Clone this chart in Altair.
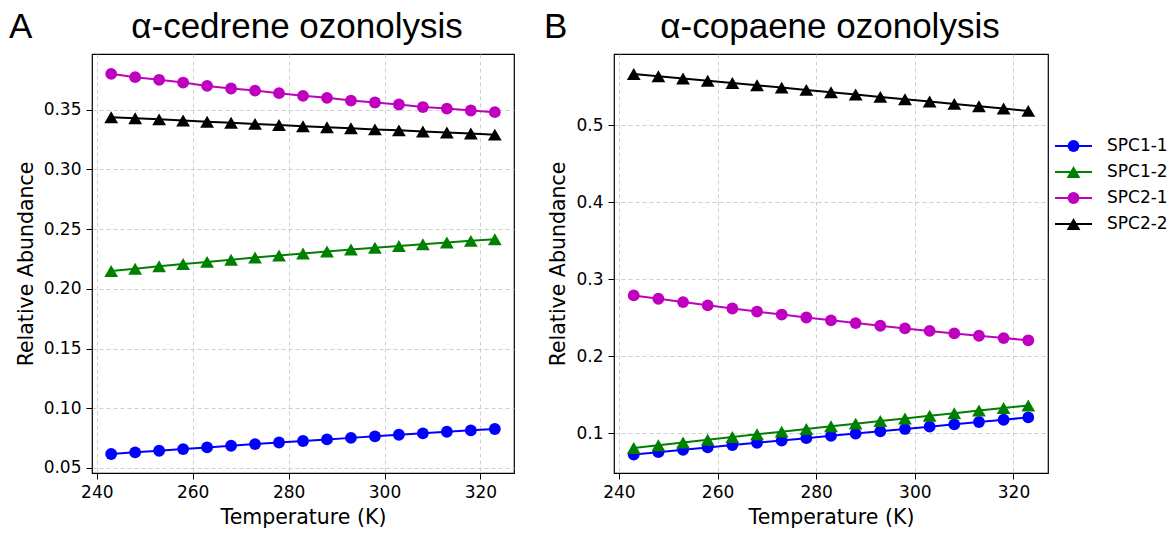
import altair as alt
import pandas as pd

temps = [243, 248, 253, 258, 263, 268, 273, 278, 283, 288, 293, 298, 303, 308, 313, 318, 323]
series_names = ["SPC1-1", "SPC1-2", "SPC2-1", "SPC2-2"]
colors = ["#0000ff", "#008000", "#bf00bf", "#000000"]
shapes = ["circle", "triangle-up", "circle", "triangle-up"]
marker_sizes = [140, 190, 140, 190]

# Panel A: alpha-cedrene ozonolysis
a_spc1_1 = [0.0617, 0.0631, 0.0644, 0.0658, 0.0672, 0.0686, 0.0700, 0.0713, 0.0726, 0.0739, 0.0752, 0.0765, 0.0778, 0.0790, 0.0803, 0.0815, 0.0826]
a_spc1_2 = [0.2148, 0.2168, 0.2188, 0.2207, 0.2225, 0.2243, 0.2261, 0.2278, 0.2295, 0.2312, 0.2328, 0.2343, 0.2358, 0.2373, 0.2387, 0.2401, 0.2414]
a_spc2_1 = [0.3799, 0.3771, 0.3749, 0.3726, 0.3698, 0.3676, 0.3659, 0.3637, 0.3615, 0.3598, 0.3575, 0.3559, 0.3542, 0.3521, 0.3508, 0.3492, 0.3478]
a_spc2_2 = [0.3436, 0.3427, 0.3418, 0.3408, 0.3398, 0.3389, 0.3380, 0.3370, 0.3361, 0.3352, 0.3343, 0.3334, 0.3326, 0.3317, 0.3308, 0.3300, 0.3290]

# Panel B: alpha-copaene ozonolysis
b_spc1_1 = [0.0720, 0.0751, 0.0782, 0.0813, 0.0843, 0.0873, 0.0903, 0.0933, 0.0963, 0.0993, 0.1023, 0.1053, 0.1083, 0.1113, 0.1143, 0.1173, 0.1203]
b_spc1_2 = [0.0805, 0.0841, 0.0877, 0.0913, 0.0948, 0.0983, 0.1018, 0.1053, 0.1088, 0.1122, 0.1156, 0.1190, 0.1224, 0.1258, 0.1292, 0.1325, 0.1358]
b_spc2_1 = [0.2790, 0.2746, 0.2703, 0.2661, 0.2620, 0.2580, 0.2541, 0.2503, 0.2466, 0.2430, 0.2395, 0.2361, 0.2328, 0.2296, 0.2265, 0.2235, 0.2206]
b_spc2_2 = [0.5670, 0.5641, 0.5612, 0.5583, 0.5553, 0.5523, 0.5493, 0.5463, 0.5432, 0.5402, 0.5372, 0.5342, 0.5312, 0.5281, 0.5251, 0.5221, 0.5190]

x_ticks = [240, 260, 280, 300, 320]
a_y_ticks = [0.05, 0.10, 0.15, 0.20, 0.25, 0.30, 0.35]
b_y_ticks = [0.1, 0.2, 0.3, 0.4, 0.5]

FONT_AX = "DejaVu Sans"
FONT_TITLE = "Liberation Sans"


def series_df(values, name):
    return pd.DataFrame({"T": temps, "v": values, "series": name})


def panel(series_values, ydomain, yticks, yfmt, width, title, title_x, letter, letter_x):
    x = alt.X("T:Q", scale=alt.Scale(domain=[239, 327], nice=False, zero=False),
              axis=alt.Axis(values=x_ticks, format="d", title="Temperature (K)"))
    y = alt.Y("v:Q", scale=alt.Scale(domain=ydomain, nice=False, zero=False),
              axis=alt.Axis(values=yticks, format=yfmt, title="Relative Abundance"))
    layers = []
    for name, vals, col, shp, sz in zip(series_names, series_values, colors, shapes, marker_sizes):
        d = series_df(vals, name)
        layers.append(alt.Chart(d).mark_line(color=col, strokeWidth=2).encode(x=x, y=y))
        layers.append(alt.Chart(d).mark_point(color=col, shape=shp, filled=True, opacity=1, size=sz).encode(x=x, y=y))
    t = alt.Chart(pd.DataFrame({"t": [title]})).mark_text(
        font=FONT_TITLE, fontSize=35, align="center", baseline="alphabetic", color="black"
    ).encode(text="t:N", x=alt.value(title_x), y=alt.value(-16))
    l = alt.Chart(pd.DataFrame({"t": [letter]})).mark_text(
        font=FONT_TITLE, fontSize=35, align="left", baseline="alphabetic", color="black"
    ).encode(text="t:N", x=alt.value(letter_x), y=alt.value(-16))
    layers += [t, l]
    return alt.layer(*layers).properties(width=width, height=419)


panel_a = panel([a_spc1_1, a_spc1_2, a_spc2_1, a_spc2_2], [0.0458, 0.3965], a_y_ticks, ".2f",
                422, "α-cedrene ozonolysis", 205, "A", -83)
panel_b = panel([b_spc1_1, b_spc1_2, b_spc2_1, b_spc2_2], [0.048, 0.593], b_y_ticks, ".1f",
                434, "α-copaene ozonolysis", 216, "B", -70)

# legend built from the series names
leg_df = pd.DataFrame({"series": series_names, "sz": marker_sizes})
color_scale = alt.Scale(domain=series_names, range=colors)
shape_scale = alt.Scale(domain=series_names, range=shapes)
ly = alt.Y("series:N", scale=alt.Scale(type="point", domain=series_names, range=[92, 170], padding=0), axis=None)
leg_rule = alt.Chart(leg_df).mark_rule(strokeWidth=2).encode(
    x=alt.value(441), x2=alt.value(478), y=ly,
    color=alt.Color("series:N", scale=color_scale, legend=None))
leg_pt = alt.Chart(leg_df).mark_point(filled=True, opacity=1).encode(
    x=alt.value(459.5), y=ly,
    color=alt.Color("series:N", scale=color_scale, legend=None),
    shape=alt.Shape("series:N", scale=shape_scale, legend=None),
    size=alt.Size("sz:Q", scale=None, legend=None))
leg_txt = alt.Chart(leg_df).mark_text(align="left", baseline="middle", font=FONT_AX, fontSize=17, color="black").encode(
    x=alt.value(493), y=ly, text="series:N")
legend = alt.layer(leg_rule, leg_pt, leg_txt)

panel_b_full = alt.layer(panel_b, legend).resolve_scale(y="independent")

chart = alt.hconcat(panel_a, panel_b_full, spacing=100, bounds="flush").properties(
    padding={"left": 8, "top": 9, "right": 0, "bottom": 0},
    background="white"
).configure_view(
    stroke="black", strokeWidth=1.2
).configure_axis(
    labelFont=FONT_AX, labelFontSize=17, labelColor="black",
    titleFont=FONT_AX, titleFontSize=20.5, titleFontWeight="normal", titleColor="black",
    tickColor="black", tickSize=6, tickWidth=1, labelPadding=5, titlePadding=7,
    domain=False, grid=True, gridColor="#c8c8c8", gridDash=[4, 3], gridWidth=0.9
)

chart.save("out.html", embed_options={"renderer": "svg", "actions": False})
